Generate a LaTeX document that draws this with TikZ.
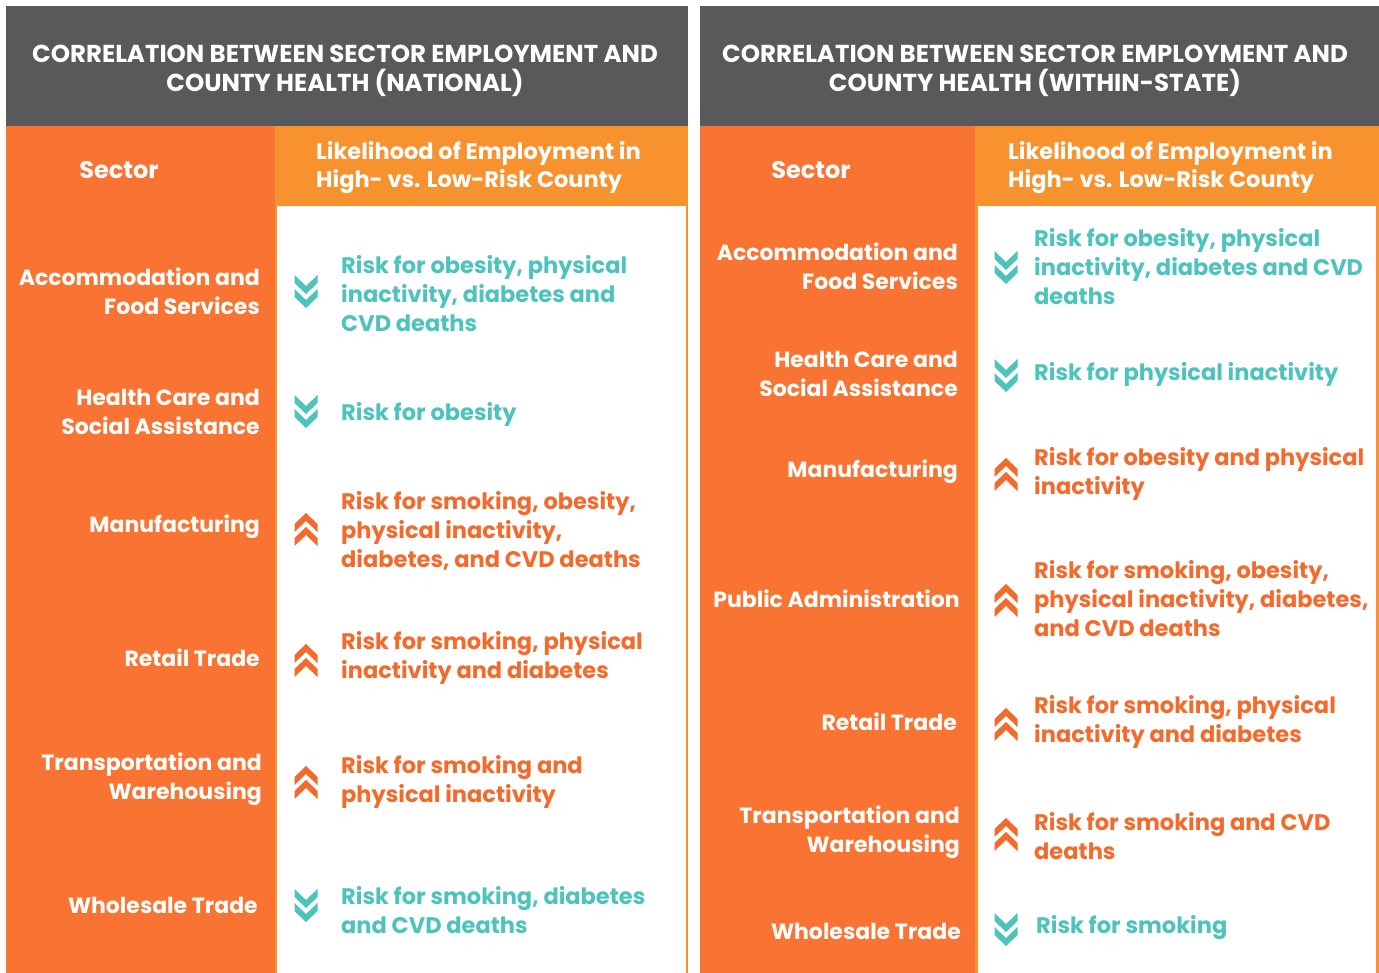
\documentclass[tikz,border=0pt]{standalone}
\usepackage{fontspec}
\setmainfont{Poppins}
\definecolor{headgrey}{HTML}{58595B}
\definecolor{sectorange}{HTML}{F97432}
\definecolor{likeorange}{HTML}{F7922F}
\definecolor{downteal}{HTML}{4DC3BD}
\definecolor{uporange}{HTML}{F36B2C}

\begin{document}
\begin{tikzpicture}[
  x=1pt, y=-1pt,
  every node/.style={inner sep=0pt},
  title/.style={text=white, align=center, yshift=-4pt, font=\fontsize{24.5}{29}\selectfont\bfseries},
  colhead/.style={text=white, align=left, yshift=-2pt, font=\fontsize{22.5}{28}\selectfont\bfseries},
  sector/.style={anchor=east, text=white, align=right, yshift=-2pt, font=\fontsize{22}{29}\selectfont\bfseries},
  riskdn/.style={anchor=west, text=downteal, align=left, yshift=-2pt, font=\fontsize{22.5}{29}\selectfont\bfseries},
  riskup/.style={anchor=west, text=uporange, align=left, yshift=-2pt, font=\fontsize{22.5}{29}\selectfont\bfseries},
  chevdn/.pic={
    \fill[downteal] (-11.5,-17) -- (0,-6) -- (11.5,-17) -- (11.5,-9) -- (0,2) -- (-11.5,-9) -- cycle;
    \fill[downteal] (-11.5,-3) -- (0,8) -- (11.5,-3) -- (11.5,5) -- (0,16) -- (-11.5,5) -- cycle;
  },
  chevup/.pic={
    \fill[uporange] (-11.5,17) -- (0,6) -- (11.5,17) -- (11.5,9) -- (0,-2) -- (-11.5,9) -- cycle;
    \fill[uporange] (-11.5,3) -- (0,-8) -- (11.5,3) -- (11.5,-5) -- (0,-16) -- (-11.5,-5) -- cycle;
  }
]
\useasboundingbox (0,0) rectangle (1379,973);
\fill[white] (0,0) rectangle (1379,973);

% national panel
\fill[headgrey] (6,6) rectangle (688,126);
\fill[sectorange] (6,126) rectangle (275,973);
\fill[likeorange] (275,126) rectangle (688,973);
\fill[white] (277,206) rectangle (686,973);

\node[title] (nattitle) at (345,67) {CORRELATION BETWEEN SECTOR EMPLOYMENT AND\\COUNTY HEALTH (NATIONAL)};
\node[colhead, font=\fontsize{24}{28}\selectfont\bfseries] (natsector) at (119,168) {Sector};
\node[colhead, anchor=west] (natlikely) at (316,166) {Likelihood of Employment in\\High- vs. Low-Risk County};

\node[sector] (natacc) at (260,289) {Accommodation and\\Food Services};
\node[sector] (nathealth) at (260,410) {Health Care and\\Social Assistance};
\node[sector] (natmanu) at (260,525) {Manufacturing};
\node[sector] (natretail) at (260,656) {Retail Trade};
\node[sector] (nattrans) at (262,777) {Transportation and\\Warehousing};
\node[sector] (natwhole) at (258,903) {Wholesale Trade};

\pic at (306,292) {chevdn};
\pic at (306,412) {chevdn};
\pic at (306,529) {chevup};
\pic at (306,660) {chevup};
\pic at (306,782) {chevup};
\pic at (306,906) {chevdn};

\node[riskdn] (natacc-r) at (341,292) {Risk for obesity, physical\\inactivity, diabetes and\\CVD deaths};
\node[riskdn] (nathealth-r) at (341,412) {Risk for obesity};
\node[riskup] (natmanu-r) at (341,529) {Risk for smoking, obesity,\\physical inactivity,\\diabetes, and CVD deaths};
\node[riskup] (natretail-r) at (341,656) {Risk for smoking, physical\\inactivity and diabetes};
\node[riskup] (nattrans-r) at (341,780) {Risk for smoking and\\physical inactivity};
\node[riskdn] (natwhole-r) at (341,908) {Risk for smoking, diabetes\\and CVD deaths};

% within-state panel
\fill[headgrey] (700,6) rectangle (1379,126);
\fill[sectorange] (700,126) rectangle (975,973);
\fill[likeorange] (975,126) rectangle (1379,973);
\fill[white] (978,206) rectangle (1376,973);

\node[title] (sttitle) at (1035,67) {CORRELATION BETWEEN SECTOR EMPLOYMENT AND\\COUNTY HEALTH (WITHIN-STATE)};
\node[colhead, font=\fontsize{24}{28}\selectfont\bfseries] (stsector) at (811,168) {Sector};
\node[colhead, anchor=west] (stlikely) at (1008,166) {Likelihood of Employment in\\High- vs. Low-Risk County};

\node[sector] (stacc) at (958,264) {Accommodation and\\Food Services};
\node[sector] (sthealth) at (958,372) {Health Care and\\Social Assistance};
\node[sector] (stmanu) at (958,470) {Manufacturing};
\node[sector] (stpublic) at (960,597) {Public Administration};
\node[sector] (stretail) at (957,720) {Retail Trade};
\node[sector] (sttrans) at (960,830) {Transportation and\\Warehousing};
\node[sector] (stwhole) at (961,929) {Wholesale Trade};

\pic at (1006,268) {chevdn};
\pic at (1006,376) {chevdn};
\pic at (1006,474) {chevup};
\pic at (1006,600) {chevup};
\pic at (1006,724) {chevup};
\pic at (1006,834) {chevup};
\pic at (1006,930) {chevdn};

\node[riskdn] (stacc-r) at (1034,265) {Risk for obesity, physical\\inactivity, diabetes and CVD\\deaths};
\node[riskdn] (sthealth-r) at (1034,372) {Risk for physical inactivity};
\node[riskup] (stmanu-r) at (1034,472) {Risk for obesity and physical\\inactivity};
\node[riskup] (stpublic-r) at (1034,597) {Risk for smoking, obesity,\\physical inactivity, diabetes,\\and CVD deaths};
\node[riskup] (stretail-r) at (1034,720) {Risk for smoking, physical\\inactivity and diabetes};
\node[riskup] (sttrans-r) at (1034,834) {Risk for smoking and CVD\\deaths};
\node[riskdn] (stwhole-r) at (1036,926) {Risk for smoking};
\end{tikzpicture}
\end{document}
